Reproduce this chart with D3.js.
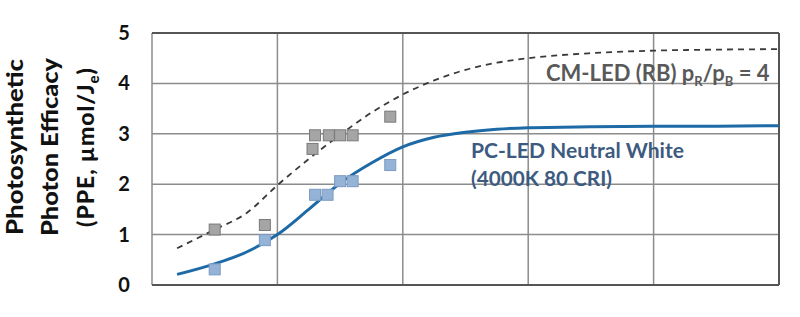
<!DOCTYPE html>
<html><head><meta charset="utf-8">
<script src="https://cdn.jsdelivr.net/npm/d3@7"></script>
<style>body{margin:0;background:#fff}svg{display:block}</style>
</head><body>
<svg id="c" width="800" height="317"></svg>
<script>
// ---- data ----
const yTicks = [0, 1, 2, 3, 4, 5];
const xGrid = [0, 1, 2, 3, 4, 5];
const cmX = [0.5, 0.9, 1.28, 1.3, 1.41, 1.5, 1.6, 1.9];
const cmY = [1.10, 1.19, 2.70, 2.97, 2.97, 2.97, 2.97, 3.34];
const pcX = [0.5, 0.9, 1.3, 1.4, 1.5, 1.6, 1.9];
const pcY = [0.31, 0.89, 1.79, 1.79, 2.06, 2.06, 2.38];
const curveX  = [0.2, 0.5, 0.75, 1.0, 1.25, 1.5, 1.75, 2.0, 2.25, 2.5, 2.75, 3.0, 3.5, 4.0, 4.5, 5.0];
const pcCurve = [0.21, 0.42, 0.65, 1.00, 1.50, 2.02, 2.42, 2.74, 2.93, 3.03, 3.09, 3.12, 3.14, 3.15, 3.15, 3.16];
const cmCurve = [0.73, 1.10, 1.42, 1.98, 2.50, 2.98, 3.42, 3.78, 4.06, 4.27, 4.41, 4.50, 4.60, 4.65, 4.67, 4.68];

const svg = d3.select("#c");
const L = 152, R = 779, T = 33, B = 285;
const x = d3.scaleLinear().domain([0, 5]).range([L, R]);
const y = d3.scaleLinear().domain([0, 5]).range([B, T]);
const font = "Lato, 'Open Sans', sans-serif";

// grid
const g = svg.append("g");
g.selectAll(".hg").data(yTicks.slice(1, 5)).enter().append("line")
  .attr("x1", L).attr("x2", R).attr("y1", d => y(d)).attr("y2", d => y(d))
  .attr("stroke", "#8c8c8c").attr("stroke-width", 1.5);
g.selectAll(".vg").data(xGrid.slice(0, 5)).enter().append("line")
  .attr("x1", d => x(d)).attr("x2", d => x(d)).attr("y1", T).attr("y2", B)
  .attr("stroke", "#8c8c8c").attr("stroke-width", 1.5);
// border
g.append("line").attr("x1", L).attr("x2", R).attr("y1", T).attr("y2", T).attr("stroke", "#555").attr("stroke-width", 2);
g.append("line").attr("x1", L).attr("x2", R).attr("y1", B).attr("y2", B).attr("stroke", "#555").attr("stroke-width", 2);
g.append("line").attr("x1", R).attr("x2", R).attr("y1", T).attr("y2", B).attr("stroke", "#555").attr("stroke-width", 2);

// y axis labels
const yAxis = d3.axisLeft(y).tickValues(yTicks).tickSize(0).tickPadding(22).tickFormat(d3.format("d"));
const ya = svg.append("g").attr("transform", `translate(${L},0)`).call(yAxis);
ya.select(".domain").remove();
ya.selectAll("text").attr("font-family", font).attr("font-weight", "bold")
  .attr("font-size", 20).attr("fill", "#111").attr("text-anchor", "middle").attr("dx", 0)
  .attr("x", -28);

// y title
const tt = svg.append("g").attr("transform", "translate(0,147) rotate(-90)");
const titleLines = [["Photosynthetic", 23, 176], ["Photon Efficacy", 58, 178]];
titleLines.forEach(([t, b, w]) => {
  tt.append("text").attr("x", 0).attr("y", b).attr("text-anchor", "middle")
    .attr("font-family", font).attr("font-weight", 900).attr("font-size", 23)
    .attr("fill", "#111").attr("textLength", w).attr("lengthAdjust", "spacingAndGlyphs").text(t);
});
const t3 = tt.append("text").attr("x", 0).attr("y", 94).attr("text-anchor", "middle")
  .attr("font-family", font).attr("font-weight", 900).attr("font-size", 23)
  .attr("letter-spacing", 0.9).attr("fill", "#111");
t3.append("tspan").text("(PPE, µmol/J");
t3.append("tspan").attr("font-size", 15).attr("dy", 5).text("e");
t3.append("tspan").attr("dy", -5).text(")");

// curves
const line = d3.line().x(d => x(d[0])).y(d => y(d[1])).curve(d3.curveMonotoneX);
svg.append("path").datum(curveX.map((v, i) => [v, cmCurve[i]])).attr("d", line)
  .attr("fill", "none").attr("stroke", "#3a3a3a").attr("stroke-width", 1.8).attr("stroke-dasharray", "6,5");
svg.append("path").datum(curveX.map((v, i) => [v, pcCurve[i]])).attr("d", line)
  .attr("fill", "none").attr("stroke", "#1d6aa6").attr("stroke-width", 3);

// markers
const s = 11;
svg.selectAll(".cm").data(cmX.map((v, i) => [v, cmY[i]])).enter().append("rect")
  .attr("x", d => x(d[0]) - s / 2).attr("y", d => y(d[1]) - s / 2).attr("width", s).attr("height", s)
  .attr("fill", "#a5a5a5").attr("stroke", "#7a7a7a").attr("stroke-width", 1);
svg.selectAll(".pc").data(pcX.map((v, i) => [v, pcY[i]])).enter().append("rect")
  .attr("x", d => x(d[0]) - s / 2).attr("y", d => y(d[1]) - s / 2).attr("width", s).attr("height", s)
  .attr("fill", "#95b3d7").attr("stroke", "#7c9bc2").attr("stroke-width", 1);

// annotations
const a1 = svg.append("text").attr("x", 546).attr("y", 81).attr("font-family", font)
  .attr("font-weight", "bold").attr("font-size", 22).attr("fill", "#595959");
a1.append("tspan").text("CM-LED (RB) p");
a1.append("tspan").attr("font-size", 13).attr("dy", 5).text("R");
a1.append("tspan").attr("dy", -5).text("/p");
a1.append("tspan").attr("font-size", 13).attr("dy", 5).text("B");
a1.append("tspan").attr("dy", -5).text(" = 4");

svg.append("text").attr("x", 471).attr("y", 158).attr("font-family", font)
  .attr("font-weight", "bold").attr("font-size", 21).attr("fill", "#3d5a80")
  .attr("textLength", 213).attr("lengthAdjust", "spacingAndGlyphs").text("PC-LED Neutral White");
svg.append("text").attr("x", 471).attr("y", 186).attr("font-family", font)
  .attr("font-weight", "bold").attr("font-size", 21).attr("fill", "#3d5a80")
  .attr("textLength", 141).attr("lengthAdjust", "spacingAndGlyphs").text("(4000K 80 CRI)");
</script>
</body></html>
